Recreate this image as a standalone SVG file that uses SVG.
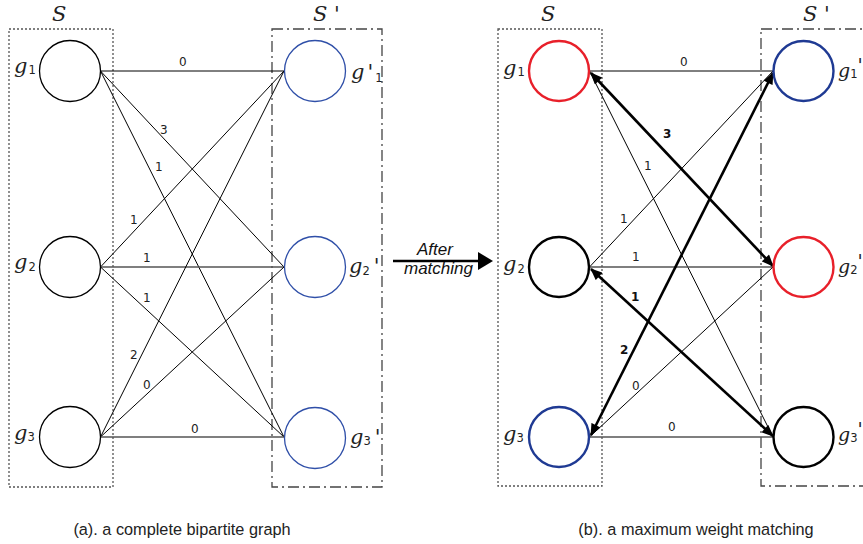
<svg xmlns="http://www.w3.org/2000/svg" width="863" height="544" viewBox="0 0 863 544">
<style>
.box1{fill:none;stroke:#555;stroke-width:1.3;stroke-dasharray:2,2}
.box2{fill:none;stroke:#444;stroke-width:1.3;stroke-dasharray:11,4,2,4}
.e{stroke:#000;stroke-width:1;fill:none}
.eh{stroke:#555;stroke-width:1.6;fill:none}
.et{stroke:#000;stroke-width:2.6;fill:none}
.n{fill:#fff;stroke-width:1.3}
.nt{fill:#fff;stroke-width:2.4}
.lbl{font-family:"DejaVu Sans",sans-serif;font-size:12px;fill:#222}
.lblb{font-family:"DejaVu Sans",sans-serif;font-size:12px;font-weight:bold;fill:#111}
.g{font-family:"DejaVu Serif","Liberation Serif",serif;font-style:italic;font-size:21px;fill:#222}
.gs{font-family:"DejaVu Serif","Liberation Serif",serif;font-style:italic;font-size:19px;fill:#222}
.sub{font-family:"DejaVu Sans",sans-serif;font-size:11.5px;font-style:normal}
.cap{font-family:"Liberation Sans",Arial,sans-serif;font-size:16.3px;fill:#222}
.mid{font-family:"Liberation Sans",Arial,sans-serif;font-style:italic;font-size:17px;fill:#111}
</style>
<defs>
<marker id="ah" viewBox="0 0 12 10" refX="11" refY="5" markerWidth="13" markerHeight="10" markerUnits="userSpaceOnUse" orient="auto-start-reverse">
<path d="M0,0 L12,5 L0,10 Z" fill="#000"/>
</marker>
</defs>

<g id="panel-a">
<rect class="box1" x="9" y="29" width="104" height="458"/>
<rect class="box2" x="272" y="29" width="110" height="458"/>
<text class="g" x="52" y="21">S</text>
<text class="g" x="313" y="21" xml:space="preserve">S '</text>
</g>

<g id="connectors-a">
<line class="e" x1="100.5" y1="71" x2="284" y2="71"/>
<line class="e" x1="100.5" y1="71" x2="284" y2="267"/>
<line class="e" x1="100.5" y1="71" x2="284" y2="437"/>
<line class="e" x1="100.5" y1="267" x2="284" y2="71"/>
<line class="eh" x1="100.5" y1="267" x2="284" y2="267"/>
<line class="e" x1="100.5" y1="267" x2="284" y2="437"/>
<line class="e" x1="100.5" y1="437" x2="284" y2="71"/>
<line class="e" x1="100.5" y1="437" x2="284" y2="267"/>
<line class="eh" x1="100.5" y1="437" x2="284" y2="437"/>
<text class="lbl" x="179" y="66">0</text>
<text class="lbl" x="160" y="134">3</text>
<text class="lbl" x="155" y="171">1</text>
<text class="lbl" x="130" y="224">1</text>
<text class="lbl" x="143" y="262">1</text>
<text class="lbl" x="143" y="302">1</text>
<text class="lbl" x="130" y="359">2</text>
<text class="lbl" x="143" y="389">0</text>
<text class="lbl" x="191" y="433">0</text>
</g>

<g id="a-g1"><circle class="n" cx="70" cy="71" r="30.5" stroke="#000"/><text class="g" x="14" y="73">g<tspan class="sub" dx="1" dy="1">1</tspan></text></g>
<g id="a-g2"><circle class="n" cx="70" cy="267" r="30.5" stroke="#000"/><text class="g" x="14" y="269">g<tspan class="sub" dx="1" dy="2">2</tspan></text></g>
<g id="a-g3"><circle class="n" cx="70" cy="437" r="30.5" stroke="#000"/><text class="g" x="14" y="440">g<tspan class="sub" dx="0" dy="1">3</tspan></text></g>
<g id="a-gp1"><circle class="n" cx="315" cy="71" r="30.5" stroke="#2f4fa8"/><text class="g" x="351" y="79">g<tspan dx="3">'</tspan><tspan class="sub" dx="2" dy="3">1</tspan></text></g>
<g id="a-gp2"><circle class="n" cx="315" cy="267" r="30.5" stroke="#2f4fa8"/><text class="g" x="349" y="273">g<tspan class="sub" dx="0" dy="2">2</tspan><tspan dx="4" dy="-2">'</tspan></text></g>
<g id="a-gp3"><circle class="n" cx="315" cy="438" r="30.5" stroke="#2f4fa8"/><text class="g" x="350" y="444">g<tspan class="sub" dx="0" dy="1">3</tspan><tspan dx="4" dy="-1">'</tspan></text></g>

<g id="after-arrow">
<line x1="393" y1="261" x2="479" y2="261" stroke="#000" stroke-width="2.6"/>
<polygon points="478,252 493,261 478,270" fill="#000"/>
<text class="mid" x="417" y="255">After</text>
<text class="mid" x="404" y="274">matching</text>
</g>

<g id="panel-b">
<rect class="box1" x="498" y="29" width="104" height="457"/>
<rect class="box2" x="761" y="29" width="120" height="457"/>
<text class="g" x="541" y="21">S</text>
<text class="g" x="803" y="21" xml:space="preserve">S '</text>
</g>

<g id="connectors-b">
<line class="e" x1="589.5" y1="71" x2="773" y2="71"/>
<line class="e" x1="589.5" y1="71" x2="773" y2="437"/>
<line class="e" x1="589.5" y1="267" x2="773" y2="71"/>
<line class="eh" x1="589.5" y1="267" x2="773" y2="267"/>
<line class="e" x1="589.5" y1="437" x2="773" y2="267"/>
<line class="eh" x1="589.5" y1="437" x2="773" y2="437"/>
<line class="et" x1="591" y1="73" x2="773" y2="266" marker-start="url(#ah)" marker-end="url(#ah)"/>
<line class="et" x1="591" y1="269" x2="773" y2="436" marker-start="url(#ah)" marker-end="url(#ah)"/>
<line class="et" x1="591" y1="435" x2="773" y2="73" marker-start="url(#ah)" marker-end="url(#ah)"/>
<text class="lbl" x="680" y="66">0</text>
<text class="lblb" x="663" y="138">3</text>
<text class="lbl" x="644" y="170">1</text>
<text class="lbl" x="620" y="223">1</text>
<text class="lbl" x="632" y="261">1</text>
<text class="lblb" x="631" y="301">1</text>
<text class="lblb" x="620" y="354">2</text>
<text class="lbl" x="632" y="390">0</text>
<text class="lbl" x="668" y="431">0</text>
</g>

<g id="b-g1"><circle class="nt" cx="559" cy="71" r="30" stroke="#e8202a"/><text class="g" x="503" y="75">g<tspan class="sub" dx="1" dy="1">1</tspan></text></g>
<g id="b-g2"><circle class="nt" cx="559" cy="267" r="30" stroke="#000"/><text class="g" x="503" y="271">g<tspan class="sub" dx="1" dy="2">2</tspan></text></g>
<g id="b-g3"><circle class="nt" cx="559" cy="437" r="30" stroke="#1f3a93"/><text class="g" x="503" y="441">g<tspan class="sub" dx="0" dy="1">3</tspan></text></g>
<g id="b-gp1"><circle class="nt" cx="803.5" cy="71" r="30" stroke="#1f3a93"/><text class="gs" x="838" y="77">g<tspan class="sub" dx="0" dy="1">1</tspan><tspan dx="0" dy="-6">'</tspan></text></g>
<g id="b-gp2"><circle class="nt" cx="803.5" cy="267" r="30" stroke="#e8202a"/><text class="gs" x="838" y="273">g<tspan class="sub" dx="0" dy="1">2</tspan><tspan dx="0" dy="-6">'</tspan></text></g>
<g id="b-gp3"><circle class="nt" cx="803.5" cy="437" r="30" stroke="#000"/><text class="gs" x="838" y="441">g<tspan class="sub" dx="0" dy="1">3</tspan><tspan dx="0" dy="-6">'</tspan></text></g>

<g id="captions">
<text class="cap" x="182" y="535" text-anchor="middle">(a). a complete bipartite graph</text>
<text class="cap" x="696" y="535" text-anchor="middle">(b). a maximum weight matching</text>
</g>
</svg>
